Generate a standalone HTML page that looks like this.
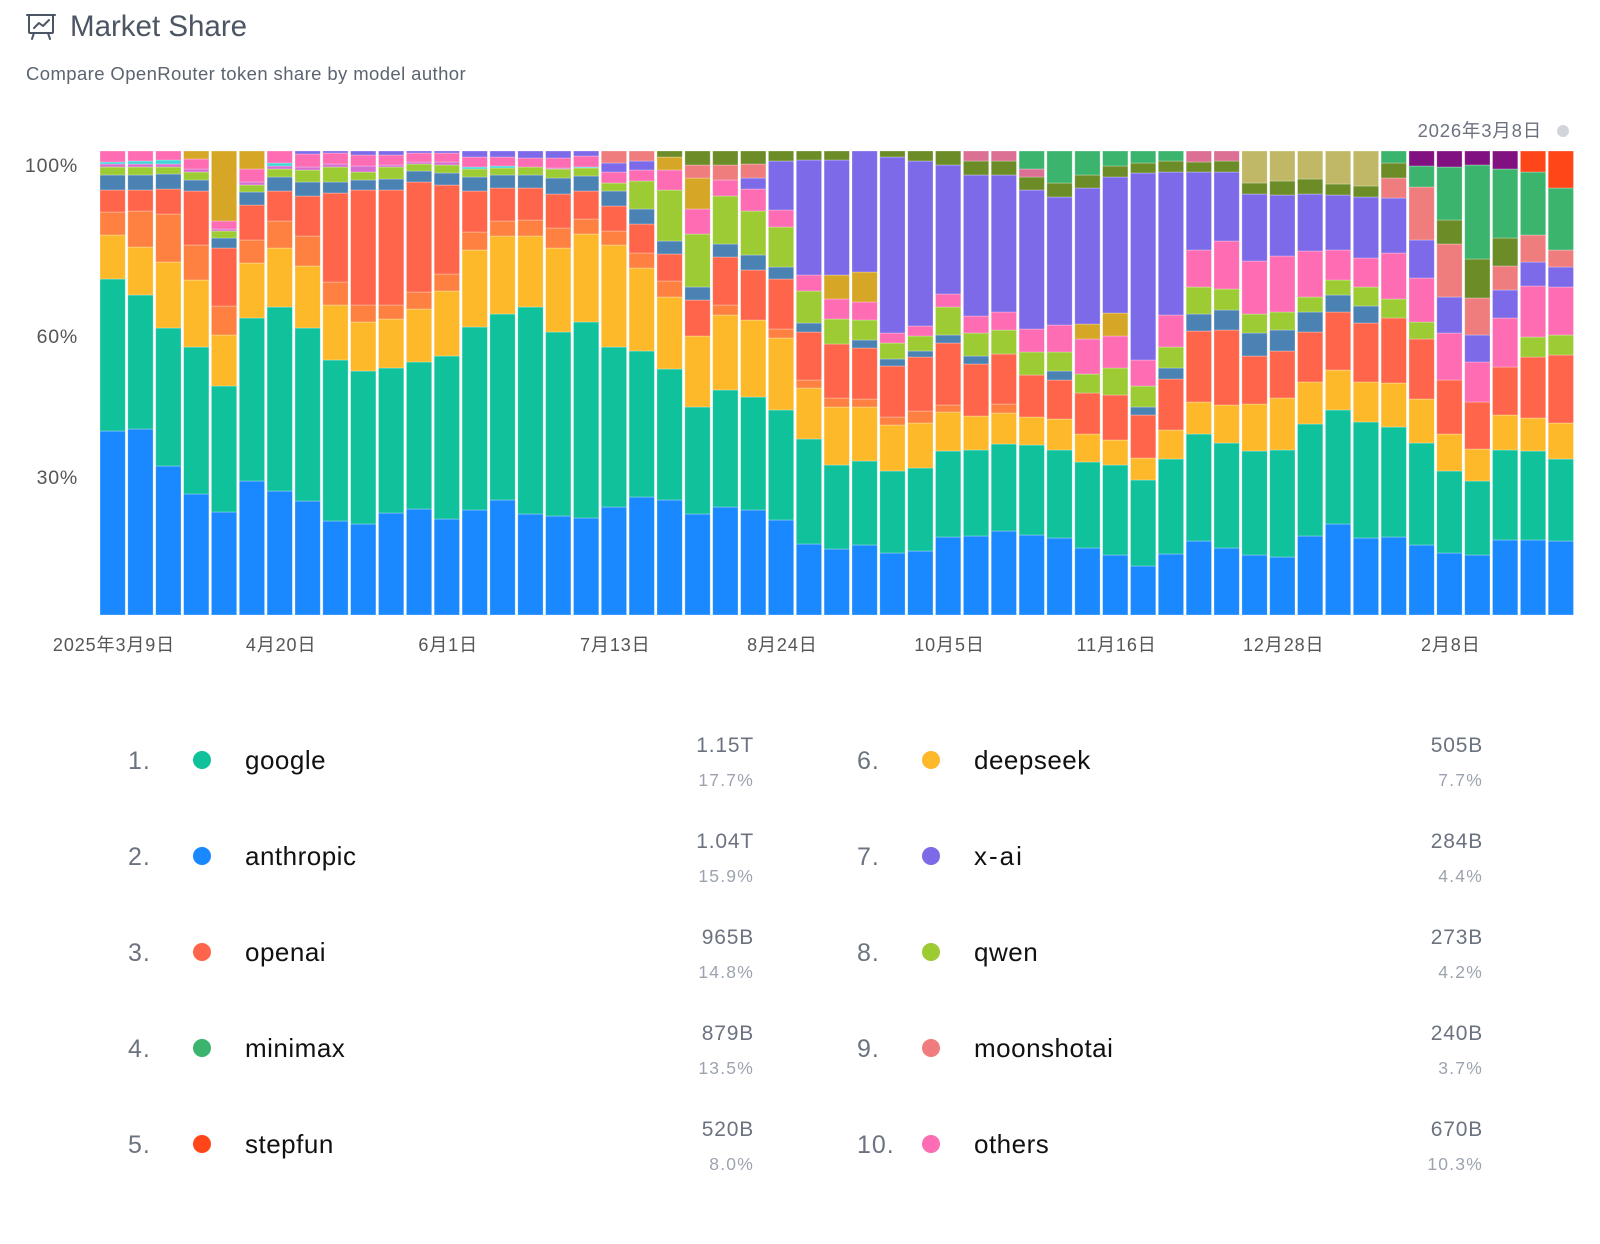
<!DOCTYPE html>
<html><head><meta charset="utf-8"><style>
html,body{margin:0;padding:0;background:#fff;width:1600px;height:1244px;overflow:hidden}
svg{display:block}
text{font-family:"Liberation Sans","Noto Sans CJK SC",sans-serif}
</style></head><body>
<svg id="s" width="1600" height="1244" viewBox="0 0 1600 1244" xmlns="http://www.w3.org/2000/svg">
<g fill="none" stroke="#4b5563" stroke-width="2" stroke-linecap="round" stroke-linejoin="round">
<rect x="29" y="15" width="24" height="18" rx="1"/>
<line x1="27" y1="15" x2="55" y2="15"/>
<polyline points="34,28 39,23 43,26 49,20"/>
<line x1="34" y1="33" x2="32" y2="39"/><line x1="48" y1="33" x2="50" y2="39"/>
</g>
<text x="70" y="36" font-size="29.5" fill="#4b5563">Market Share</text>
<text x="26" y="80" font-size="18.5" fill="#5b6470" letter-spacing="0.4">Compare OpenRouter token share by model author</text>
<text x="1542" y="137" font-size="18.5" fill="#6b7280" text-anchor="end" letter-spacing="0.8">2026年3月8日</text>
<circle cx="1563" cy="131" r="6" fill="#d1d5db"/>
<text x="78" y="172" font-size="19.5" fill="#555" text-anchor="end" letter-spacing="0.8">100%</text>
<text x="78" y="343" font-size="19.5" fill="#555" text-anchor="end" letter-spacing="0.8">60%</text>
<text x="78" y="484" font-size="19.5" fill="#555" text-anchor="end" letter-spacing="0.8">30%</text>
<g id="bars"></g>
<g id="xl" font-size="18" fill="#555" text-anchor="middle" letter-spacing="0.9"></g>
<g id="leg"></g>
</svg>
<script>
var C={B:"#1a88ff",T:"#10c29c",Y:"#fdb92a",O:"#fe8142",R:"#ff654a",S:"#4a82b4",L:"#9ccb34",M:"#d66ed2",C:"#40d6d6",P:"#fe6cb4",U:"#7c6ae9",G:"#d6a727",N:"#ef7d7e",V:"#6b8c26",E:"#3bb46e",K:"#c0b866",D:"#811180",F:"#ff4619",Q:"#dc6f94"};
var D=[
"B431 T279 Y235 O212 R190 S175 L167 M164 C162 P151",
"B429 T295 Y247 O211 R190 S175 L167 M164 C161 P151",
"B466 T328 Y262 O214 R189 S174 L167 M164 C160 P151",
"B494 T347 Y280 O245 R191 S180 L172 M169 P159 G151",
"B512 T386 Y335 O306 R248 S238 L231 M229 P221 G151",
"B481 T318 Y263 O240 R205 S192 L185 M182 P169 G151",
"B491 T307 Y248 O221 R191 S177 L169 M166 C163 P151",
"B501 T328 Y266 O236 R196 S182 L170 M167 P154 U151",
"B521 T360 Y305 O282 R193 S182 L167 M164 P153 U151",
"B524 T371 Y322 O305 R190 S180 L172 M166 P155 U151",
"B513 T368 Y319 O305 R190 S179 L167 M165 P155 U151",
"B509 T362 Y309 O292 R182 S171 L164 M162 P153 U151",
"B519 T356 Y291 O274 R185 S173 L165 M162 P153 U151",
"B510 T327 Y250 O232 R191 S177 L169 C167 P157 U151",
"B500 T314 Y236 O221 R188 S175 L168 C166 P157 U151",
"B514 T307 Y236 O220 R188 S175 L167 P158 U151",
"B516 T332 Y248 O228 R194 S178 L169 M168 P158 U151",
"B518 T322 Y234 O219 R191 S176 L168 C167 P156 U151",
"B507 T347 Y245 O231 R206 S191 L183 P172 U163 N151",
"B497 T351 Y268 O253 R224 S209 L181 P170 U161 N151",
"B500 T369 Y297 O281 R254 S241 L190 P170 G157 V151",
"B514 T407 Y336 R300 S287 L234 P209 G178 N165 V151",
"B507 T390 Y315 O305 R257 S244 L196 P180 N165 V151",
"B510 T397 Y320 R270 S255 L211 P189 U178 N164 V151",
"B520 T410 Y338 O329 R279 S267 L227 P210 U161 V151",
"B544 T439 Y388 O380 R332 S323 L291 P275 U160 V151",
"B549 T465 Y407 O398 R344 L319 P299 G275 U160 V151",
"B545 T461 Y407 O399 R348 S340 L320 P302 G272 U151",
"B553 T471 Y425 O417 R366 S359 L343 P333 U157 V151",
"B551 T468 Y423 O411 R357 S351 L336 P326 U161 V151",
"B537 T451 Y412 O405 R343 S335 L307 P294 U165 V151",
"B536 T450 Y416 R364 S356 L333 P316 U175 V161 Q151",
"B531 T444 Y413 O404 R354 L330 P312 U175 V161 Q151",
"B535 T445 Y417 R375 L352 P329 U190 V177 Q169 E151",
"B538 T450 Y419 R380 S371 L352 P325 U197 V183 E151",
"B548 T462 Y434 R393 L374 P339 G324 U188 V175 E151",
"B555 T465 Y440 R395 L368 P336 G313 U177 V166 E151",
"B566 T480 Y458 R415 S407 L386 P360 U173 V163 E151",
"B554 T459 Y430 R379 S368 L347 P315 U172 V161 E151",
"B541 T434 Y402 R331 S314 L287 P250 U172 V162 Q151",
"B548 T443 Y405 R330 S310 L289 P241 U172 V161 Q151",
"B555 T451 Y404 R356 S333 L314 P261 U194 V183 K151",
"B557 T450 Y398 R351 S330 L312 P256 U195 V181 K151",
"B536 T424 Y382 R332 S312 L297 P251 U194 V179 K151",
"B524 T410 Y370 R312 S295 L280 P250 U195 V184 K151",
"B538 T422 Y382 R323 S306 L287 P258 U197 V186 K151",
"B537 T427 Y383 R318 L299 P253 U198 N178 V163 E151",
"B545 T443 Y399 R339 L322 P278 U240 N187 E166 D151",
"B553 T471 Y434 R380 P333 U297 N244 V220 E167 D151",
"B555 T481 Y449 R402 P362 U335 N298 V259 E165 D151",
"B540 T450 Y415 R367 P318 U290 N266 V238 E169 D151",
"B540 T451 Y418 R357 L337 P286 U262 N235 E172 F151",
"B541 T459 Y423 R355 L335 P287 U267 N250 E188 F151"];
var g=document.getElementById("bars"),step=27.85,w=25.3,h="";
D.forEach(function(s,i){var x=100+i*step,bot=615;s.split(" ").forEach(function(t){var k=t[0],y=+t.slice(1);
h+='<rect x="'+x.toFixed(1)+'" y="'+y+'" width="'+w+'" height="'+(bot-y)+'" fill="'+C[k]+'" stroke="rgba(255,255,255,0.35)" stroke-width="0.8"/>';bot=y;});});
g.innerHTML=h;
var L=["2025年3月9日","4月20日","6月1日","7月13日","8月24日","10月5日","11月16日","12月28日","2月8日"],xh="";
L.forEach(function(t,i){xh+='<text x="'+(114+167.1*i).toFixed(1)+'" y="651">'+t+'</text>';});
document.getElementById("xl").innerHTML=xh;
var G=[["1.","#10c29c","google","1.15T","17.7%"],["2.","#1a88ff","anthropic","1.04T","15.9%"],["3.","#ff654a","openai","965B","14.8%"],["4.","#3bb46e","minimax","879B","13.5%"],["5.","#ff4619","stepfun","520B","8.0%"],
["6.","#fdb92a","deepseek","505B","7.7%"],["7.","#7c6ae9","x-ai","284B","4.4%"],["8.","#9ccb34","qwen","273B","4.2%"],["9.","#ef7d7e","moonshotai","240B","3.7%"],["10.","#fe6cb4","others","670B","10.3%"]],lh="";
G.forEach(function(r,i){var c=i<5?0:1,row=i%5,cy=760+row*96,ox=c?729:0;
lh+='<text x="'+(128+ox)+'" y="'+(cy+9)+'" font-size="25" fill="#6b7280" letter-spacing="1">'+r[0]+'</text>';
lh+='<circle cx="'+(202+ox)+'" cy="'+cy+'" r="9" fill="'+r[1]+'"/>';
lh+='<text x="'+(245+ox)+'" y="'+(cy+9)+'" font-size="26" fill="#111" letter-spacing="'+(r[2]=="x-ai"?2:0.5)+'">'+r[2]+'</text>';
lh+='<text x="'+(754+ox)+'" y="'+(cy-8)+'" font-size="21" fill="#6b7280" text-anchor="end" letter-spacing="0.8">'+r[3]+'</text>';
lh+='<text x="'+(754+ox)+'" y="'+(cy+26)+'" font-size="17.5" fill="#9ca3af" text-anchor="end" letter-spacing="1.2">'+r[4]+'</text>';});
document.getElementById("leg").innerHTML=lh;
</script>
</body></html>
